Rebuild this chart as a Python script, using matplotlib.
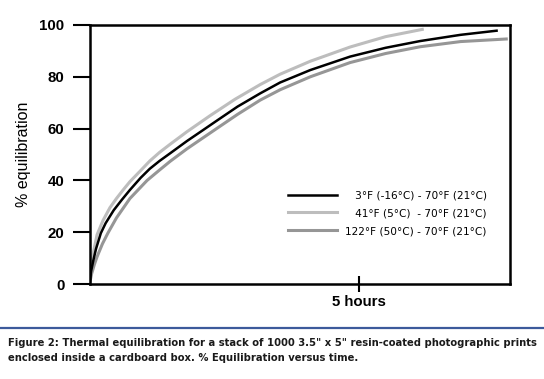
import numpy as np
import matplotlib
matplotlib.use("Agg")
import matplotlib.pyplot as plt

# time in hours, % equilibration
t_cold = [0, 0.03, 0.07, 0.12, 0.21, 0.30, 0.45, 0.60, 0.75, 0.95, 1.12, 1.30, 1.50, 1.81,
          2.10, 2.36, 2.75, 3.17, 3.54, 4.10, 4.84, 5.50, 6.14, 6.89, 7.56]
eq_cold = [0, 5.0, 9.0, 13.5, 19.6, 23.5, 28.5, 32.5, 36.3, 41.0, 44.5, 47.5, 50.5, 55.2,
           59.3, 63.0, 68.5, 73.6, 77.8, 82.6, 87.8, 91.2, 93.8, 96.2, 97.8]

t_cool = [0, 0.03, 0.07, 0.14, 0.25, 0.38, 0.50, 0.62, 0.75, 0.95, 1.12, 1.30, 1.50, 1.81,
          2.24, 2.70, 3.17, 3.54, 4.10, 4.84, 5.50, 6.18]
eq_cool = [0, 7.0, 12.0, 19.0, 24.5, 29.5, 33.0, 36.2, 39.5, 43.8, 47.5, 50.8, 54.0, 58.8,
           65.0, 71.3, 77.0, 81.0, 86.0, 91.5, 95.5, 98.3]

t_hot = [0, 0.04, 0.09, 0.14, 0.24, 0.34, 0.50, 0.75, 1.07, 1.30, 1.50, 1.81, 2.36, 2.75,
         3.17, 3.54, 4.10, 4.84, 5.50, 6.14, 6.89, 7.74]
eq_hot = [0, 4.0, 7.5, 10.5, 15.5, 19.6, 25.5, 33.0, 40.0, 44.0, 47.4, 52.2, 60.0, 65.5,
          71.0, 75.0, 80.0, 85.5, 89.0, 91.6, 93.6, 94.6]

labels = ["   3\u00b0F (-16\u00b0C) - 70\u00b0F (21\u00b0C)",
          "   41\u00b0F (5\u00b0C)  - 70\u00b0F (21\u00b0C)",
          "122\u00b0F (50\u00b0C) - 70\u00b0F (21\u00b0C)"]
yticks = [0, 20, 40, 60, 80, 100]
caption = ("Figure 2: Thermal equilibration for a stack of 1000 3.5\" x 5\" resin-coated photographic prints\n"
           "enclosed inside a cardboard box. % Equilibration versus time.")

fig = plt.figure(figsize=(5.44, 3.79), dpi=100)
ax = fig.add_axes([89.5 / 544, 1 - 284 / 379, 420 / 544, 259 / 379])

ax.plot(t_cold, eq_cold, color="black", lw=1.8, label=labels[0], zorder=3)
ax.plot(t_cool, eq_cool, color="#bdbdbd", lw=2.2, label=labels[1], zorder=2)
ax.plot(t_hot, eq_hot, color="#969696", lw=2.2, label=labels[2], zorder=2)

ax.set_xlim(0, 7.8)
ax.set_ylim(0, 100)
for s in ax.spines.values():
    s.set_linewidth(1.8)

ax.set_yticks(yticks)
ax.set_yticklabels([str(v) for v in yticks], fontsize=10.8, fontweight="bold",
                   family="Liberation Sans")
ax.tick_params(axis="y", direction="out", length=12, width=1.5, pad=6)
ax.set_xticks([5])
ax.set_xticklabels(["5 hours"], fontsize=10.8, fontweight="bold", family="Liberation Sans")
ax.tick_params(axis="x", direction="inout", length=12, width=1.5, pad=2)
ax.set_ylabel("% equilibration", fontsize=11.5, family="Liberation Sans", labelpad=6)

ax.legend(loc="upper left", bbox_to_anchor=(0.473, 0.362), frameon=False,
          prop={"family": "DejaVu Sans", "size": 7.6}, handlelength=4.6,
          handletextpad=0.8, labelspacing=0.75, borderpad=0, borderaxespad=0)

fig.add_artist(plt.Line2D([0, 1], [1 - 327.5 / 379] * 2, transform=fig.transFigure,
                          color="#3c5a9b", lw=1.6))
fig.text(8 / 544, 1 - 338.5 / 379, caption, ha="left", va="top", fontsize=7.2,
         fontweight="bold", family="DejaVu Sans", color="#1a1a1a", linespacing=1.55)

fig.savefig("out.png", dpi=100)
